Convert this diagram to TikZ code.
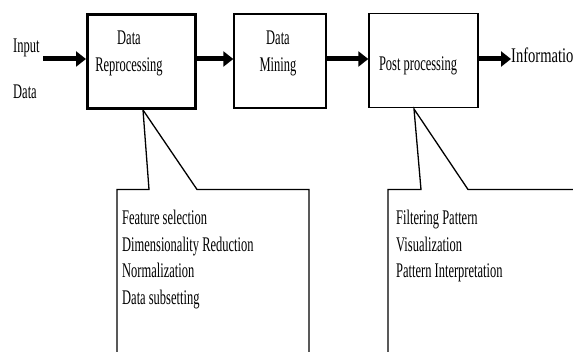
\documentclass[tikz,border=0pt]{standalone}
\usepackage{fontspec}
\setmainfont{Liberation Serif}[FakeStretch=0.6]
\newfontfamily\wideserif{Liberation Serif}[FakeStretch=0.7]
\usetikzlibrary{arrows.meta}
\tikzset{
  box/.style={draw, line width=1.4pt, minimum width=#1, minimum height=94pt, inner sep=0pt},
  box/.default=92pt,
  lbl/.style={font=\fontsize{20.8}{26.5}\selectfont, inner sep=0pt, align=center},
  txt/.style={font=\fontsize{20.8}{26.5}\selectfont, inner sep=0pt, align=left, anchor=north west},
  arr/.style={line width=5pt, -{Triangle[length=10pt,width=15pt]}},
  call/.style={line width=1.3pt, line join=miter}
}
\begin{document}
\begin{tikzpicture}[x=1pt,y=-1pt]
\useasboundingbox (0,0) rectangle (573,352);
% boxes
\node[box=108pt, line width=3pt] (b1) at (141.5,61.5) {};
\node[box=92pt] (b2) at (280,61) {};
\node[box=109pt] (b3) at (423.5,60.5) {};
% labels
\node[lbl] (l1) at (129,53.5) {Data\\Reprocessing};
\node[lbl] (l2) at (278,53.5) {Data\\Mining};
\node[lbl] (l3) at (418,66) {Post processing};
\node[lbl, anchor=west] (in1) at (13,48) {Input};
\node[lbl, anchor=west] (in2) at (13,92) {Data};
\node[lbl, anchor=west, font=\wideserif\fontsize{20.8}{26.5}\selectfont] (info) at (511,55) {Information};
% arrows
\coordinate (a0) at (43,59);
\draw[arr] (a0) -- (a0 -| b1.west);
\draw[arr] (b1.east |- a0) -- (b2.west |- a0);
\draw[arr] (b2.east |- a0) -- (b3.west |- a0);
\draw[arr] (b3.east |- a0) -- (info.west |- a0);
% callouts
\coordinate (p1) at (143,110);
\coordinate (p2) at (414,109);
\draw[call] (117,360) -- (117,189.5) -- (149,189.5) -- (p1) -- (197,189.5) -- (309,189.5) -- (309,360);
\draw[call] (388,360) -- (388,189.5) -- (421,189.5) -- (p2) -- (468,189.5) -- (590,189.5);
\node[txt] (t1) at (122,210) {Feature selection\\Dimensionality Reduction\\Normalization\\Data subsetting};
\node[txt] (t2) at (396,210) {Filtering Pattern\\Visualization\\Pattern Interpretation};
\end{tikzpicture}
\end{document}
